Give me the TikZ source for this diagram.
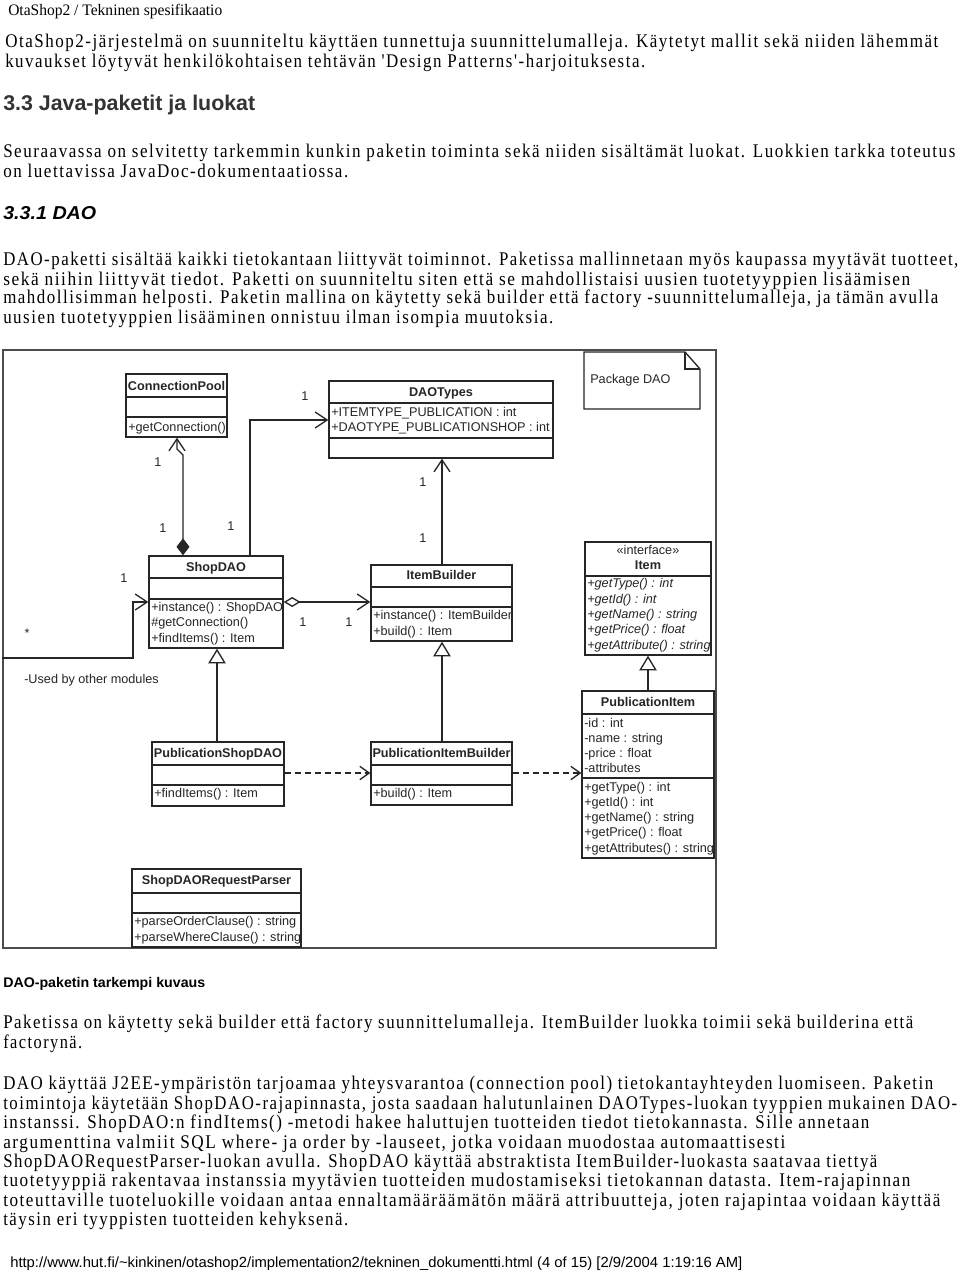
\documentclass[tikz,border=0pt]{standalone}
\usepackage{fontspec}
\usepackage{graphicx}
\setmainfont{Liberation Sans}
\newfontfamily\serifbody[LetterSpace=9]{Liberation Serif}
\newfontfamily\serifplain{Liberation Serif}
\newfontfamily\sansfnt{Liberation Sans}
\usetikzlibrary{arrows.meta,fit,calc}
\newdimen\pxu \pxu=0.75pt
\newcommand\bodyfnt{\fontsize{14.5pt}{16pt}\serifbody}
\newcommand\fitnode[6]{\node[anchor=base west,inner sep=0pt] (#1) at (#2,#3) {\resizebox{#4\pxu}{\height}{#5#6}};}
\newcommand\pline[5]{\fitnode{#1}{#2}{#3}{#4}{\bodyfnt}{#5}}
\newcommand\ctext[4]{\node[ctxt,anchor=base west] (#1) at (#2,#3) {#4};}
\newcommand\cname[4]{\node[ctxt,anchor=base,font=\fontsize{9.5pt}{11pt}\sansfnt\bfseries] (#1) at (#2,#3) {#4};}
\newcommand\mlabel[4]{\node[ctxt,anchor=center] (#1) at (#2,#3) {#4};}
\tikzset{
  ctxt/.style={inner sep=0pt,font=\fontsize{9.5pt}{11pt}\sansfnt,text=black!85},
  classbox/.style={draw=black!85,line width=1pt,inner sep=0pt},
  conn/.style={draw=black!85,line width=1pt},
  assoc/.style={conn,-{Straight Barb[length=9pt,width=12pt]}},
  gen/.style={conn,-{Triangle[open,length=11pt,width=13pt,fill=white]}},
  depend/.style={conn,dash pattern=on 4.5pt off 3pt,-{Straight Barb[length=7pt,width=10pt]}},
}
\begin{document}
\begin{tikzpicture}[x=0.75pt,y=-0.75pt]
\fill[white] (0,0) rectangle (960,1272);
\useasboundingbox (0,0) rectangle (960,1272);

% ---------- page text ----------
\fitnode{hdr}{8}{15}{214}{\fontsize{12pt}{13pt}\serifplain}{OtaShop2 / Tekninen spesifikaatio}

\pline{p1a}{5}{47}{933}{OtaShop2-järjestelmä on suunniteltu käyttäen tunnettuja suunnittelumalleja. Käytetyt mallit sekä niiden lähemmät}
\pline{p1b}{5}{67}{640}{kuvaukset löytyvät henkilökohtaisen tehtävän 'Design Patterns'-harjoituksesta.}

\fitnode{h33}{3}{110}{252}{\color{black!80}\fontsize{16pt}{18pt}\sansfnt\bfseries}{3.3 Java-paketit ja luokat}

\pline{p2a}{3}{157}{952}{Seuraavassa on selvitetty tarkemmin kunkin paketin toiminta sekä niiden sisältämät luokat. Luokkien tarkka toteutus}
\pline{p2b}{3}{177}{345}{on luettavissa JavaDoc-dokumentaatiossa.}

\fitnode{h331}{3}{219}{93}{\fontsize{14pt}{16pt}\sansfnt\bfseries\itshape}{3.3.1 DAO}

\pline{p3a}{3}{265}{955}{DAO-paketti sisältää kaikki tietokantaan liittyvät toiminnot. Paketissa mallinnetaan myös kaupassa myytävät tuotteet,}
\pline{p3b}{3}{285}{907}{sekä niihin liittyvät tiedot. Paketti on suunniteltu siten että se mahdollistaisi uusien tuotetyyppien lisäämisen}
\pline{p3c}{3}{303}{935}{mahdollisimman helposti. Paketin mallina on käytetty sekä builder että factory -suunnittelumalleja, ja tämän avulla}
\pline{p3d}{3}{323}{550}{uusien tuotetyyppien lisääminen onnistuu ilman isompia muutoksia.}

\fitnode{h4}{3}{987}{202}{\fontsize{10.5pt}{12pt}\sansfnt\bfseries}{DAO-paketin tarkempi kuvaus}

\pline{p4a}{3}{1028}{910}{Paketissa on käytetty sekä builder että factory suunnittelumalleja. ItemBuilder luokka toimii sekä builderina että}
\pline{p4b}{3}{1048}{79}{factorynä.}

\pline{p5a}{3}{1089}{930}{DAO käyttää J2EE-ympäristön tarjoamaa yhteysvarantoa (connection pool) tietokantayhteyden luomiseen. Paketin}
\pline{p5b}{3}{1109}{954}{toimintoja käytetään ShopDAO-rajapinnasta, josta saadaan halutunlainen DAOTypes-luokan tyyppien mukainen DAO-}
\pline{p5c}{3}{1128}{866}{instanssi. ShopDAO:n findItems() -metodi hakee haluttujen tuotteiden tiedot tietokannasta. Sille annetaan}
\pline{p5d}{3}{1148}{782}{argumenttina valmiit SQL where- ja order by -lauseet, jotka voidaan muodostaa automaattisesti}
\pline{p5e}{3}{1167}{874}{ShopDAORequestParser-luokan avulla. ShopDAO käyttää abstraktista ItemBuilder-luokasta saatavaa tiettyä}
\pline{p5f}{3}{1186}{907}{tuotetyyppiä rakentavaa instanssia myytävien tuotteiden mudostamiseksi tietokannan datasta. Item-rajapinnan}
\pline{p5g}{3}{1206}{937}{toteuttaville tuoteluokille voidaan antaa ennaltamääräämätön määrä attribuutteja, joten rajapintaa voidaan käyttää}
\pline{p5h}{3}{1225}{345}{täysin eri tyyppisten tuotteiden kehyksenä.}

\fitnode{ftr}{10}{1267}{732}{\fontsize{11pt}{12pt}\sansfnt}{http://www.hut.fi/\textasciitilde kinkinen/otashop2/implementation2/tekninen\_dokumentti.html (4 of 15) [2/9/2004 1:19:16 AM]}

% ---------- diagram frame ----------
\node[draw=black!70,line width=1.1pt,inner sep=0pt,fit={(3,350) (716,948)}] (frame) {};

% ---------- classes ----------
\node[classbox,fit={(126,374) (227,437)}] (cp) {};
\draw[conn] (cp.west |- 0,397) -- (cp.east |- 0,397);
\draw[conn] (cp.west |- 0,417) -- (cp.east |- 0,417);
\cname{cpn}{176.5}{390.5}{ConnectionPool}
\ctext{cpm}{128}{431.5}{+getConnection()}

\node[classbox,fit={(329,381) (553,458)}] (dt) {};
\draw[conn] (dt.west |- 0,403) -- (dt.east |- 0,403);
\draw[conn] (dt.west |- 0,438) -- (dt.east |- 0,438);
\cname{dtn}{441}{396.5}{DAOTypes}
\ctext{dta}{331}{416.5}{+ITEMTYPE\_PUBLICATION : int}
\ctext{dtb}{331}{431.5}{+DAOTYPE\_PUBLICATIONSHOP : int}

% note
\draw[conn] (584,352) -- (685,352) -- (700,369) -- (700,409) -- (584,409) -- cycle;
\draw[conn] (685,352) -- (685,369) -- (700,369);
\node[ctxt,anchor=base west] (note) at (590,383.5) {Package DAO};

\node[classbox,fit={(149,556) (283,648)}] (shop) {};
\draw[conn] (shop.west |- 0,578) -- (shop.east |- 0,578);
\draw[conn] (shop.west |- 0,599) -- (shop.east |- 0,599);
\cname{shopn}{216}{571.5}{ShopDAO}
\ctext{shopa}{151}{611.5}{+instance() : ShopDAO}
\ctext{shopb}{151}{626.5}{\#getConnection()}
\ctext{shopc}{151}{642.5}{+findItems() : Item}

\node[classbox,fit={(371,565) (512,641)}] (ib) {};
\draw[conn] (ib.west |- 0,587) -- (ib.east |- 0,587);
\draw[conn] (ib.west |- 0,607) -- (ib.east |- 0,607);
\cname{ibn}{441.5}{579.5}{ItemBuilder}
\ctext{iba}{373}{619.5}{+instance() : ItemBuilder}
\ctext{ibb}{373}{635.5}{+build() : Item}

\node[classbox,fit={(585,542) (711,655)}] (item) {};
\draw[conn] (item.west |- 0,576) -- (item.east |- 0,576);
\node[ctxt,anchor=base] (itemst) at (648,554.5) {«interface»};
\cname{itemn}{648}{569.5}{Item}
\ctext{itema}{587}{587.5}{\itshape +getType() : int}
\ctext{itemb}{587}{603.5}{\itshape +getId() : int}
\ctext{itemc}{587}{618.5}{\itshape +getName() : string}
\ctext{itemd}{587}{633.5}{\itshape +getPrice() : float}
\ctext{iteme}{587}{649.5}{\itshape +getAttribute() : string}

\node[classbox,fit={(582,691) (714,858)}] (pi) {};
\draw[conn] (pi.west |- 0,714) -- (pi.east |- 0,714);
\draw[conn] (pi.west |- 0,778) -- (pi.east |- 0,778);
\cname{pin}{648}{706.5}{PublicationItem}
\ctext{pia}{584}{727}{-id : int}
\ctext{pib}{584}{742.5}{-name : string}
\ctext{pic}{584}{757.5}{-price : float}
\ctext{pid}{584}{772.5}{-attributes}
\ctext{pie}{584}{791.5}{+getType() : int}
\ctext{pif}{584}{806.5}{+getId() : int}
\ctext{pig}{584}{821.5}{+getName() : string}
\ctext{pih}{584}{836.5}{+getPrice() : float}
\ctext{pij}{584}{852.5}{+getAttributes() : string}

\node[classbox,fit={(152,742) (284,806)}] (psd) {};
\draw[conn] (psd.west |- 0,765) -- (psd.east |- 0,765);
\draw[conn] (psd.west |- 0,785) -- (psd.east |- 0,785);
\cname{psdn}{218}{757.5}{PublicationShopDAO}
\ctext{psdm}{154}{797.5}{+findItems() : Item}

\node[classbox,fit={(371,742) (512,805)}] (pib) {};
\draw[conn] (pib.west |- 0,765) -- (pib.east |- 0,765);
\draw[conn] (pib.west |- 0,785) -- (pib.east |- 0,785);
\cname{pibn}{441.5}{757.5}{PublicationItemBuilder}
\ctext{pibm}{373}{797.5}{+build() : Item}

\node[classbox,fit={(132,869) (301,947)}] (rp) {};
\draw[conn] (rp.west |- 0,893) -- (rp.east |- 0,893);
\draw[conn] (rp.west |- 0,913) -- (rp.east |- 0,913);
\cname{rpn}{216.5}{884.5}{ShopDAORequestParser}
\ctext{rpa}{134}{925.5}{+parseOrderClause() : string}
\ctext{rpb}{134}{941.5}{+parseWhereClause() : string}

% ---------- connectors ----------
\draw[conn,{Diamond[length=12.75pt,width=9.75pt]}-{Straight Barb[length=9pt,width=12pt]}]
  (shop.north -| 183,0) -- (183,455) -- (177,449) -- (cp.south -| 177,0);
\draw[assoc] (shop.north -| 250,0) |- (dt.west |- 0,420);
\draw[assoc] (ib.north -| 442,0) -- (dt.south -| 442,0);
\draw[conn,{Diamond[open,length=12.75pt,width=7.5pt,fill=white]}-{Straight Barb[length=9pt,width=12pt]}]
  (shop.east |- 0,602) -- (ib.west |- 0,602);
\coordinate (ubstart) at (frame.west |- 0,658);
\draw[assoc] (ubstart) -- (133,658) -- (133,602) -- (shop.west |- 0,602);
\draw[gen] (psd.north -| 217,0) -- (shop.south -| 217,0);
\draw[gen] (pib.north -| 442,0) -- (ib.south -| 442,0);
\draw[gen] (pi.north -| 648,0) -- (item.south -| 648,0);
\draw[depend] (psd.east |- 0,773) -- (pib.west |- 0,773);
\draw[depend] (pib.east |- 0,773) -- (pi.west |- 0,773);

% ---------- multiplicities ----------
\mlabel{m1}{305}{396}{1}
\mlabel{m2}{158}{462}{1}
\mlabel{m3}{163}{528}{1}
\mlabel{m4}{231}{526}{1}
\mlabel{m5}{423}{482}{1}
\mlabel{m6}{423}{538}{1}
\mlabel{m7}{124}{578}{1}
\mlabel{m8}{27}{633}{*}
\mlabel{m9}{303}{622}{1}
\mlabel{m10}{349}{622}{1}
\node[ctxt,anchor=base west] (used) at (24,683) {-Used by other modules};
\end{tikzpicture}
\end{document}
